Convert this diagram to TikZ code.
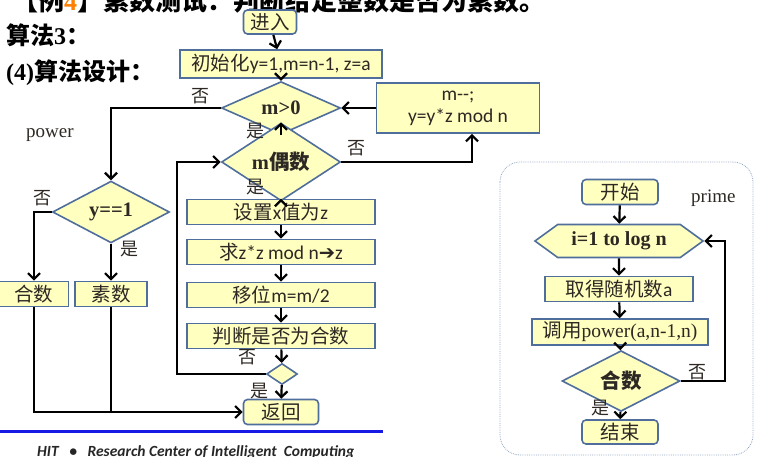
\documentclass[tikz,border=0pt]{standalone}
\usepackage{fontspec}
\setmainfont{Carlito}
\newfontfamily\cj{Noto Sans CJK SC}
\newfontfamily\tms{Liberation Serif}
\newfontfamily\dv{DejaVu Sans}
\usetikzlibrary{shapes.geometric,shapes.symbols,arrows.meta}
\definecolor{fillc}{RGB}{255,255,192}
\definecolor{bordc}{RGB}{80,110,155}
\definecolor{tc}{RGB}{45,40,35}
\definecolor{footblue}{RGB}{25,25,230}
\begin{document}
\begin{tikzpicture}[x=1pt,y=-1pt,
  box/.style={draw=bordc,fill=fillc,line width=1.6pt,minimum height=25pt,inner sep=0pt,text=tc,font=\fontsize{19.5}{22}\selectfont},
  rbox/.style={box,rounded corners=4pt},
  dia/.style={diamond,draw=bordc,fill=fillc,line width=1.6pt,inner sep=0pt,text=tc,font=\tms\bfseries\fontsize{20.5}{22}\selectfont},
  arr/.style={line width=2.2pt,-{Straight Barb[length=6pt,width=12pt,line width=2.2pt]}},
  ln/.style={line width=2.2pt},
  lab/.style={font=\cj\fontsize{18}{20}\selectfont,inner sep=0pt,text=tc}]
\useasboundingbox (0,0) rectangle (777,457);
\clip (0,0) rectangle (777,457);

% headings
\node[anchor=west,inner sep=0pt,font=\bfseries\fontsize{26}{28}\selectfont] (h0) at (12,1) {{\cj 【例}{\tms\color{orange}4}{\cj 】素数测试：判断给定整数是否为素数。}};
\node[anchor=west,inner sep=0pt,font=\bfseries\fontsize{24}{26}\selectfont] (h1) at (6,35) {{\cj 算法}{\tms 3}{\cj ：}};
\node[anchor=west,inner sep=0pt,font=\bfseries\fontsize{24}{26}\selectfont] (h2) at (6,73) {{\tms (4)}{\cj 算法设计：}};

% main flow
\node[rbox,minimum width=53pt,minimum height=24pt] (enter) at (270,22) {\cj 进入};
\node[box,minimum width=202pt,minimum height=28pt] (init) at (281,64) {{\cj 初始化}y=1,m=n-1, z=a};
\node[dia,minimum width=119pt,minimum height=36pt] (m0) at (281,108) {m>0};
\node[box,minimum width=163pt,minimum height=50pt,align=center] (mdec) at (458,108) {m-{}-;\\y=y*z mod n};
\node[dia,minimum width=119pt,minimum height=37pt] (meven) at (281,162) {m{\cj 偶数}};
\node[box,minimum width=188pt] (setx) at (281,212) {{\cj 设置}x{\cj 值为}z};
\node[box,minimum width=188pt] (sq) at (281,252) {{\cj 求}z*z mod n{\dv\bfseries ➔}z};
\node[box,minimum width=188pt] (shift) at (281,295) {{\cj 移位}m=m/2};
\node[box,minimum width=188pt] (judge) at (281,336) {\cj 判断是否为合数};
\node[dia,minimum width=31pt,minimum height=21pt] (sd) at (282,374) {};
\node[rbox,minimum width=75pt] (ret) at (281,412) {\cj 返回};

% power
\node[dia,minimum width=117pt,minimum height=37pt] (y1) at (111,212) {y==1};
\node[box,minimum width=69pt] (comp) at (34,294) {\cj 合数};
\node[box,minimum width=72pt] (prm) at (111,294) {\cj 素数};
\node[anchor=west,inner sep=0pt,font=\tms\fontsize{19}{21}\selectfont,text=tc] (pw) at (26,135) {power};

\draw[arr] (enter) -- (init);
\draw[arr] (init) -- (m0);
\draw[arr] (mdec.west) -- (m0.east);
\draw[arr] (m0.west) -| (y1.north);
\draw[arr] (m0) -- (meven);
\draw[arr] (meven.east) -| ([xshift=14pt]mdec.south);
\draw[arr] (meven) -- (setx);
\draw[arr] (setx) -- (sq);
\draw[arr] (sq) -- (shift);
\draw[arr] (shift) -- (judge);
\draw[arr] (judge) -- (sd);
\draw[arr] (sd) -- (ret);
\coordinate (lp) at (177,374);
\draw[arr] (sd.west) -- (lp) |- (meven.west);
\draw[arr] (y1.west) -| (comp.north);
\draw[arr] (y1.south) -- (prm.north);
\draw[arr] (comp.south) |- (ret.west);
\draw[ln] (prm.south) -- (prm.south |- ret.west);

\node[lab] (l1) at (200,96) {否};
\node[lab] (l2) at (255,131) {是};
\node[lab] (l3) at (356,148) {否};
\node[lab] (l4) at (255,187) {是};
\node[lab] (l5) at (42,198) {否};
\node[lab] (l6) at (129,249) {是};
\node[lab] (l7) at (247,357) {否};
\node[lab] (l8) at (259,391) {是};

% footer
\draw[line width=3pt,footblue] (0,431) -- (383,431);
\node[anchor=west,inner sep=0pt,font=\bfseries\itshape\fontsize{15.5}{17}\selectfont,text=black!85] (foot) at (37,452) {HIT\ \ \ \textbullet\ \ \ Research Center of Intelligent\ \ Computing};

% prime panel
\draw[draw=bordc!60,densely dotted,line width=0.8pt,rounded corners=20pt] (500,162) rectangle (753,455);
\node[rbox,minimum width=76pt] (start) at (620,192) {\cj 开始};
\node[anchor=west,inner sep=0pt,font=\tms\fontsize{19}{21}\selectfont,text=tc] (pr) at (691,198) {prime};
\node[signal,signal to=east and west,signal pointer angle=72,draw=bordc,fill=fillc,line width=1.6pt,inner sep=0pt,minimum width=168pt,minimum height=33pt,text=tc,font=\tms\bfseries\fontsize{20}{22}\selectfont] (hex) at (619,241) {i=1 to log n};
\node[box,minimum width=148pt] (rand) at (619,289) {{\cj 取得随机数}a};
\node[box,minimum width=176pt,minimum height=26pt] (call) at (620,332) {{\cj 调用}{\tms power(a,n-1,n)}};
\node[dia,minimum width=118pt,minimum height=37pt] (cd) at (621,381) {\cj 合数};
\node[rbox,minimum width=76pt,minimum height=24pt] (fin) at (620,432) {\cj 结束};

\draw[arr] (start) -- (hex);
\draw[arr] (hex) -- (rand);
\draw[arr] (rand) -- (call);
\draw[arr] (call) -- (cd);
\draw[arr] (cd) -- (fin);
\coordinate (rp) at (725,381);
\draw[arr] (cd.east) -- (rp) |- (hex.east);
\node[lab] (l9) at (697,372) {否};
\node[lab] (l10) at (600,408) {是};
\end{tikzpicture}
\end{document}
